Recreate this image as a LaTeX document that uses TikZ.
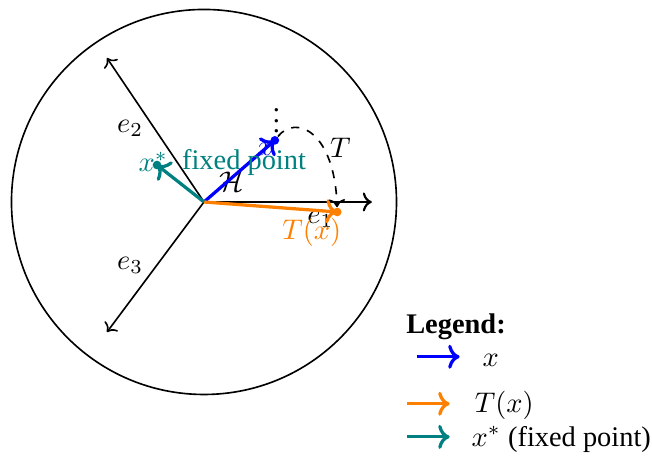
\RequirePackage{fix-cm}
\documentclass[tikz,border=0pt]{standalone}
\usepackage{amsmath}
\usepackage{amssymb}
\usepackage{fontspec}
\setmainfont{Liberation Serif}
\usepackage{tikz}
\usetikzlibrary{arrows.meta, positioning, calc}

\begin{document}
\begin{tikzpicture}[
        font=\fontsize{10.5}{13}\selectfont,
        axis/.style={->, semithick},
        vec/.style={->, very thick},
        dot/.style={circle, fill, inner sep=0pt, minimum size=3.2pt},
        lbl/.style={inner sep=1pt}
    ]
        \useasboundingbox (-2.649,-3.325) rectangle (5.818,2.623);
        \coordinate (O) at (0,0);
        \draw[semithick] (O) circle (2.5);

        % basis directions
        \coordinate (e1) at (2.18,0);
        \coordinate (e2) at (-1.26,1.87);
        \coordinate (e3) at (-1.26,-1.69);
        \draw[axis, thick] (O) -- (e1);
        \draw[axis] (O) -- (e2);
        \draw[axis] (O) -- (e3);
        \node[lbl] (le1) at (1.51,-0.23) {$e_1$};
        \node[lbl] (le2) at (-0.96,0.96) {$e_2$};
        \node[lbl] (le3) at (-0.96,-0.82) {$e_3$};
        \node[lbl] (hspace) at (0.36,0.26) {$\mathcal{H}$};

        % points
        \coordinate (x) at (0.92,0.80);
        \coordinate (Tx) at (1.73,-0.13);
        \coordinate (xs) at (-0.61,0.48);
        \draw[vec, blue] (O) -- (x);
        \draw[vec, orange] (O) -- (Tx);
        \draw[vec, teal] (O) -- (xs);
        \node[dot, blue] (xdot) at (x) {};
        \node[dot, orange] (Txdot) at (Tx) {};
        \node[dot, teal] (xsdot) at (xs) {};
        \node[lbl, blue] (lx) at (0.80,0.68) {$x$};
        \node[lbl, orange] (lTx) at (1.40,-0.39) {$T(x)$};
        \node[lbl, teal] (lxs) at (-0.66,0.52) {$x^*$};
        \node[lbl, teal] (lfixed) at (0.52,0.51) {fixed point};

        % iteration
        \node[lbl] (iter) at (0.94,1.16) {$\vdots$};
        \draw[->, dashed, semithick] (xdot) .. controls (1.2,1.15) and (1.7,0.9) .. (Txdot);
        \node[lbl] (lT) at (1.77,0.71) {$T$};

        % legend
        \node[anchor=west, inner sep=0pt] (legend) at (2.62,-1.62) {\textbf{Legend:}};
        \node[anchor=west, inner sep=0pt] (legx) at (3.61,-2.06) {$x$};
        \node[anchor=west, inner sep=0pt] (legTx) at (3.51,-2.64) {$T(x)$};
        \node[anchor=west, inner sep=0pt] (legxs) at (3.47,-3.08) {$x^*$ (fixed point)};
        \coordinate (bx) at (2.77,-2.01);
        \coordinate (ex) at (3.32,-2.01);
        \coordinate (bTx) at (2.64,-2.62);
        \coordinate (eTx) at (3.19,-2.62);
        \coordinate (bxs) at (2.64,-3.05);
        \coordinate (exs) at (3.19,-3.05);
        \draw[vec, blue] (bx) -- (ex);
        \draw[vec, orange] (bTx) -- (eTx);
        \draw[vec, teal] (bxs) -- (exs);
    \end{tikzpicture}
\end{document}
